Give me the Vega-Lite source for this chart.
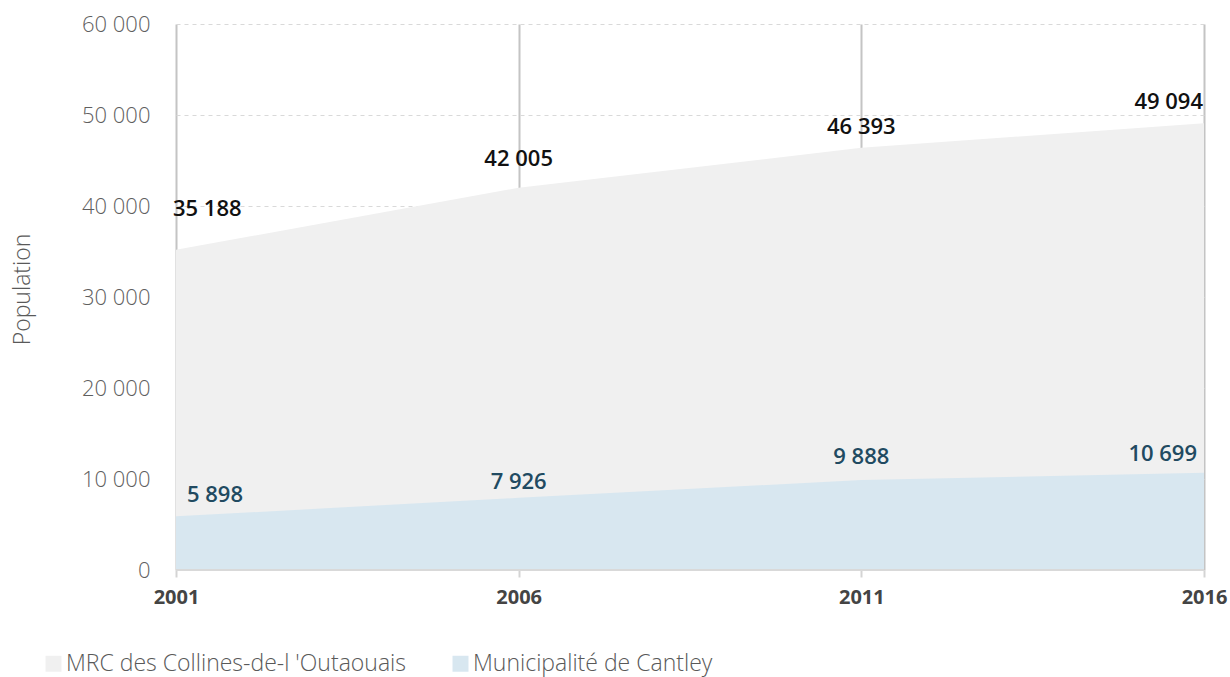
{
  "$schema": "https://vega.github.io/schema/vega-lite/v6.json",
  "width": 1028,
  "height": 546,
  "autosize": {"type": "none"},
  "padding": {"left": 176, "top": 24, "right": 26, "bottom": 107},
  "background": "white",
  "config": {
    "locale": {"number": {"decimal": ",", "thousands": " ", "grouping": [3], "currency": ["", " $"]}},
    "font": "Open Sans",
    "view": {"stroke": null}
  },
  "data": {
    "values": [
      {"year": 2001, "region": "MRC des Collines-de-l 'Outaouais", "population": 35188},
      {"year": 2006, "region": "MRC des Collines-de-l 'Outaouais", "population": 42005},
      {"year": 2011, "region": "MRC des Collines-de-l 'Outaouais", "population": 46393},
      {"year": 2016, "region": "MRC des Collines-de-l 'Outaouais", "population": 49094},
      {"year": 2001, "region": "Municipalité de Cantley", "population": 5898},
      {"year": 2006, "region": "Municipalité de Cantley", "population": 7926},
      {"year": 2011, "region": "Municipalité de Cantley", "population": 9888},
      {"year": 2016, "region": "Municipalité de Cantley", "population": 10699}
    ]
  },
  "layer": [
    {
      "transform": [{"filter": "datum.region == \"MRC des Collines-de-l 'Outaouais\""}],
      "mark": {"type": "area", "opacity": 1},
      "encoding": {
        "x": {
          "field": "year", "type": "quantitative",
          "scale": {"domain": [2001, 2016], "nice": false, "zero": false},
          "axis": {
            "title": null, "values": [2001, 2006, 2011, 2016], "format": "d",
            "grid": true, "gridColor": "#c4c4c4", "gridWidth": 2,
            "domain": false, "ticks": true, "tickColor": "#d4d4d4", "tickWidth": 2, "tickSize": 7,
            "labelFontSize": 20, "labelFontWeight": "bold", "labelColor": "#444444",
            "labelPadding": 10, "labelFlush": false
          }
        },
        "y": {
          "field": "population", "type": "quantitative", "stack": null,
          "scale": {"domain": [0, 60000], "nice": false},
          "axis": {
            "title": "Population", "titleFontSize": 23, "titleFontWeight": 300, "titleColor": "#595959",
            "titlePadding": 47, "titleY": 265,
            "values": [0, 10000, 20000, 30000, 40000, 50000, 60000], "format": ",d",
            "grid": true, "gridColor": "#d9d9d9", "gridDash": [4, 4], "gridWidth": 1,
            "domain": false, "ticks": false,
            "labelFontSize": 22, "labelFontWeight": 300, "labelColor": "#5f5f5f", "labelPadding": 26
          }
        },
        "color": {
          "field": "region", "type": "nominal",
          "scale": {"domain": ["MRC des Collines-de-l 'Outaouais", "Municipalité de Cantley"], "range": ["#f0f0f0", "#d8e7f0"]},
          "legend": {
            "title": null, "orient": "none", "legendX": -134, "legendY": 628, "direction": "horizontal",
            "symbolType": "square", "symbolSize": 256, "symbolStrokeWidth": 0,
            "labelFontSize": 23, "labelColor": "#595959", "labelFontWeight": 300, "labelLimit": 800,
            "columnPadding": 43, "labelOffset": 1
          }
        }
      }
    },
    {
      "transform": [{"filter": "datum.region == 'Municipalité de Cantley'"}],
      "mark": {"type": "area", "opacity": 1},
      "encoding": {
        "x": {"field": "year", "type": "quantitative"},
        "y": {"field": "population", "type": "quantitative", "stack": null},
        "color": {"field": "region", "type": "nominal"}
      }
    },
    {
      "mark": {"type": "rule", "color": "#d9d9d9", "strokeWidth": 2},
      "encoding": {"y": {"datum": 0}}
    },
    {
      "transform": [{"filter": "datum.region == \"MRC des Collines-de-l 'Outaouais\""}],
      "mark": {
        "type": "text", "fontSize": 22, "fontWeight": 600, "color": "#111111",
        "dy": {"expr": "datum.year == 2001 ? -41 : (datum.year == 2006 ? -29 : -21)"},
        "dx": {"expr": "datum.year == 2001 ? -3 : (datum.year == 2016 ? -1 : 0)"},
        "align": {"expr": "datum.year == 2001 ? 'left' : (datum.year == 2016 ? 'right' : 'center')"}
      },
      "encoding": {
        "x": {"field": "year", "type": "quantitative"},
        "y": {"field": "population", "type": "quantitative"},
        "text": {"field": "population", "type": "quantitative", "format": ",d"}
      }
    },
    {
      "transform": [{"filter": "datum.region == 'Municipalité de Cantley'"}],
      "mark": {
        "type": "text", "fontSize": 22, "fontWeight": 600, "color": "#214a61",
        "dy": {"expr": "datum.year == 2001 ? -21 : (datum.year == 2006 ? -16 : (datum.year == 2011 ? -23 : -19))"},
        "align": {"expr": "datum.year == 2001 ? 'left' : (datum.year == 2016 ? 'right' : 'center')"},
        "dx": {"expr": "datum.year == 2001 ? 11 : (datum.year == 2016 ? -7 : 0)"}
      },
      "encoding": {
        "x": {"field": "year", "type": "quantitative"},
        "y": {"field": "population", "type": "quantitative"},
        "text": {"field": "population", "type": "quantitative", "format": ",d"}
      }
    }
  ]
}
